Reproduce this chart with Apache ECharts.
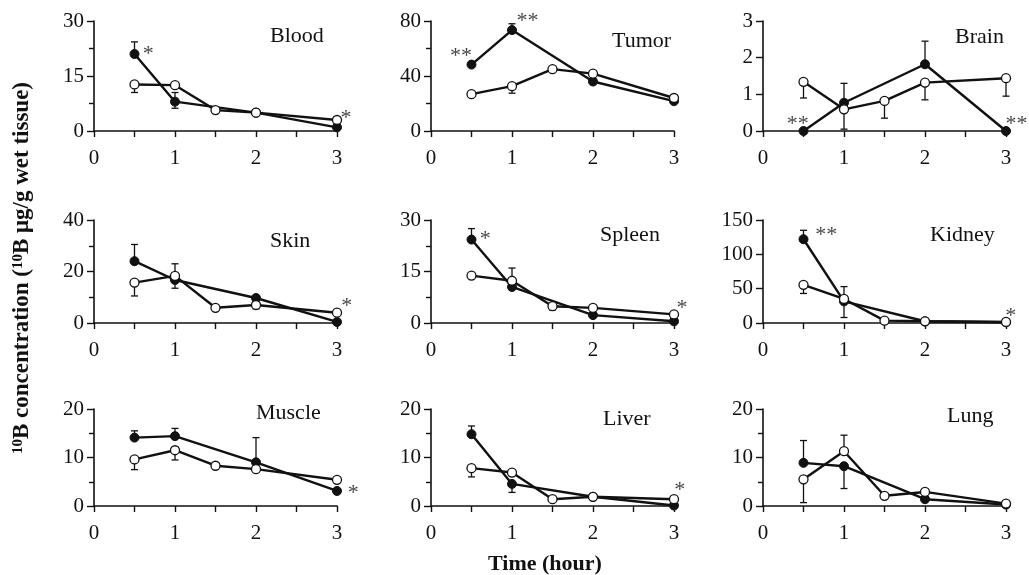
<!DOCTYPE html>
<html>
<head>
<meta charset="utf-8">
<script src="https://cdn.jsdelivr.net/npm/echarts@6/dist/echarts.min.js"></script>
<style>
html,body{margin:0;padding:0;background:#fff;}
#c{width:1029px;height:575px;}
</style>
</head>
<body>
<div id="c"></div>
<script>
// ---- data ----
const organs = ['Blood', 'Tumor', 'Brain', 'Skin', 'Spleen', 'Kidney', 'Muscle', 'Liver', 'Lung'];
const timesFilled = [0.5, 1, 2, 3];
const timesOpen = [0.5, 1, 1.5, 2, 3];
const xTicks = [0, 1, 2, 3];

const yMax = [30, 80, 3, 40, 30, 150, 20, 20, 20];
const yStep = [15, 40, 1, 20, 15, 50, 10, 10, 10];
const yMinor = [true, true, false, true, true, false, true, true, true];

const bloodFilled = [21, 8, 5, 1];
const bloodOpen = [12.7, 12.5, 5.7, 5, 3];
const bloodErr = [[0.5, 21, 24.3], [1, 8, 10.5], [1, 8, 6.2], [0.5, 12.7, 10.5]];
const bloodStars = [[0.67, 22.4, '*'], [3.11, 4.9, '*']];

const tumorFilled = [48.3, 73.4, 36, 21.7];
const tumorOpen = [26.8, 32.6, 45, 41.7, 24];
const tumorErr = [[1, 73.4, 78], [1, 32.6, 27.5]];
const tumorStars = [[0.37, 58, '**'], [1.19, 83.5, '**']];

const brainFilled = [0, 0.77, 1.82, 0];
const brainOpen = [1.34, 0.59, 0.82, 1.32, 1.44];
const brainErr = [[2, 1.82, 2.45], [1, 0.77, 1.3], [1, 0.59, 0.05], [0.5, 1.34, 0.9], [1.5, 0.82, 0.35], [2, 1.32, 0.85], [3, 1.44, 0.95]];
const brainStars = [[0.43, 0.33, '**'], [3.13, 0.33, '**']];

const skinFilled = [24, 16.7, 9.7, 0.4];
const skinOpen = [15.7, 18.3, 5.9, 7, 4];
const skinErr = [[0.5, 24, 30.5], [1, 16.7, 13.5], [0.5, 15.7, 10.5], [1, 18.3, 23], [2, 7, 5.5]];
const skinStars = [[3.12, 8.5, '*']];

const spleenFilled = [24.3, 10.5, 2.3, 0.5];
const spleenOpen = [13.8, 12.3, 4.9, 4.4, 2.5];
const spleenErr = [[0.5, 24.3, 27.5], [1, 12.3, 16], [1.5, 4.9, 3.8]];
const spleenStars = [[0.67, 25.9, '*'], [3.1, 5.9, '*']];

const kidneyFilled = [122, 31.5, 2.5, 1];
const kidneyOpen = [55.6, 35, 3.4, 2.5, 1.5];
const kidneyErr = [[0.5, 122, 135], [1, 31.5, 8], [0.5, 55.6, 43], [1, 35, 53]];
const kidneyStars = [[0.78, 135, '**'], [3.06, 17.5, '*']];

const muscleFilled = [14.1, 14.4, 9, 3.1];
const muscleOpen = [9.6, 11.5, 8.3, 7.6, 5.4];
const muscleErr = [[0.5, 14.1, 15.5], [1, 14.4, 16], [2, 9, 14.1], [0.5, 9.6, 7.5], [1, 11.5, 9.5]];
const muscleStars = [[3.2, 3.75, '*']];

const liverFilled = [14.8, 4.55, 1.9, 0.1];
const liverOpen = [7.8, 6.9, 1.4, 1.9, 1.4];
const liverErr = [[0.5, 14.8, 16.5], [1, 4.55, 2.8], [0.5, 7.8, 6]];
const liverStars = [[3.07, 4.3, '*']];

const lungFilled = [8.9, 8.2, 1.4, 0.3];
const lungOpen = [5.5, 11.3, 2.1, 2.9, 0.5];
const lungErr = [[0.5, 8.9, 13.5], [1, 8.2, 3.6], [0.5, 5.5, 0.7], [1, 11.3, 14.6]];
const lungStars = [];

const filledSets = [bloodFilled, tumorFilled, brainFilled, skinFilled, spleenFilled, kidneyFilled, muscleFilled, liverFilled, lungFilled];
const openSets = [bloodOpen, tumorOpen, brainOpen, skinOpen, spleenOpen, kidneyOpen, muscleOpen, liverOpen, lungOpen];
const errSets = [bloodErr, tumorErr, brainErr, skinErr, spleenErr, kidneyErr, muscleErr, liverErr, lungErr];
const starSets = [bloodStars, tumorStars, brainStars, skinStars, spleenStars, kidneyStars, muscleStars, liverStars, lungStars];

// ---- layout ----
const colLeft = [94, 431, 763];
const colWidth = 243;
const rowTop = [21, 220, 409];
const rowHeight = [110, 103, 97];
const namePos = [[270, 25], [612, 30], [955, 26], [270, 230], [600, 224], [930, 224], [256, 402], [603, 408], [947, 405]];

const SERIF = '"Liberation Serif", "Times New Roman", serif';
const INK = '#111';

const grids = [], xAxes = [], yAxes = [], series = [], titles = [];

organs.forEach((name, i) => {
  const r = Math.floor(i / 3), c = i % 3;
  grids.push({ left: colLeft[c], top: rowTop[r], width: colWidth, height: rowHeight[r], outerBoundsMode: 'none' });
  xAxes.push({
    type: 'value', gridIndex: i, min: 0, max: 3, interval: 1,
    axisLine: { show: true, lineStyle: { color: INK, width: 1.6 } },
    axisTick: { show: true, length: 6, lineStyle: { color: INK, width: 1.4 } },
    minorTick: { show: true, splitNumber: 2, length: 6, lineStyle: { color: INK, width: 1.4 } },
    splitLine: { show: false },
    axisLabel: { fontFamily: SERIF, fontSize: 21, color: INK, margin: 17,
      formatter: v => (xTicks.indexOf(v) >= 0 ? String(v) : '') }
  });
  yAxes.push({
    type: 'value', gridIndex: i, min: 0, max: yMax[i], interval: yStep[i],
    axisLine: { show: true, lineStyle: { color: INK, width: 1.6 } },
    axisTick: { show: true, length: 7, lineStyle: { color: INK, width: 1.4 } },
    minorTick: { show: yMinor[i], splitNumber: 2, length: 5, lineStyle: { color: INK, width: 1.4 } },
    splitLine: { show: false },
    axisLabel: { fontFamily: SERIF, fontSize: 21, color: INK, margin: 10 }
  });
  titles.push({
    text: name, left: namePos[i][0], top: namePos[i][1], padding: 0,
    textStyle: { fontFamily: SERIF, fontSize: 22, fontWeight: 'normal', color: INK }
  });

  series.push({
    type: 'custom', xAxisIndex: i, yAxisIndex: i, z: 1,
    data: errSets[i],
    encode: { x: 0, y: [1, 2] },
    renderItem: function (params, api) {
      const x = api.value(0), v = api.value(1), b = api.value(2);
      const p1 = api.coord([x, v]), p2 = api.coord([x, b]);
      const w = 3.5;
      const st = { stroke: INK, lineWidth: 1.3 };
      return {
        type: 'group', children: [
          { type: 'line', shape: { x1: p1[0], y1: p1[1], x2: p2[0], y2: p2[1] }, style: st },
          { type: 'line', shape: { x1: p2[0] - w, y1: p2[1], x2: p2[0] + w, y2: p2[1] }, style: st }
        ]
      };
    }
  });
  series.push({
    type: 'line', xAxisIndex: i, yAxisIndex: i, z: 3,
    data: timesFilled.map((t, k) => [t, filledSets[i][k]]),
    symbol: 'circle', symbolSize: 9, showSymbol: true,
    lineStyle: { color: INK, width: 2.4 },
    itemStyle: { color: INK, borderColor: INK, borderWidth: 1 }
  });
  series.push({
    type: 'line', xAxisIndex: i, yAxisIndex: i, z: 4,
    data: timesOpen.map((t, k) => [t, openSets[i][k]]),
    symbol: 'circle', symbolSize: 9, showSymbol: true,
    lineStyle: { color: INK, width: 2.4 },
    itemStyle: { color: '#fff', borderColor: INK, borderWidth: 1.3 }
  });
  series.push({
    type: 'scatter', xAxisIndex: i, yAxisIndex: i, z: 5, clip: false,
    data: starSets[i],
    symbolSize: 0,
    label: {
      show: true, position: 'inside', offset: [0, 5],
      formatter: p => p.data[2],
      fontFamily: SERIF, fontSize: 22, color: INK
    }
  });
});

const chart = echarts.init(document.getElementById('c'), null, { renderer: 'canvas' });
chart.setOption({
  animation: false,
  backgroundColor: '#fff',
  title: titles,
  grid: grids,
  xAxis: xAxes,
  yAxis: yAxes,
  series: series,
  graphic: [
    {
      type: 'text', x: 22, y: 268, rotation: Math.PI / 2,
      style: {
        text: '{s|10}{b|B concentration (}{s|10}{b|B μg/g wet tissue)}',
        align: 'center', verticalAlign: 'middle', fill: INK,
        rich: {
          s: { fontFamily: SERIF, fontSize: 15, fontWeight: 'bold', fill: INK, verticalAlign: 'top' },
          b: { fontFamily: SERIF, fontSize: 23, fontWeight: 'bold', fill: INK }
        }
      }
    },
    {
      type: 'text', x: 545, y: 564,
      style: {
        text: 'Time (hour)', align: 'center', verticalAlign: 'middle',
        fontFamily: SERIF, fontSize: 22, fontWeight: 'bold', fill: INK
      }
    }
  ]
});
</script>
</body>
</html>
